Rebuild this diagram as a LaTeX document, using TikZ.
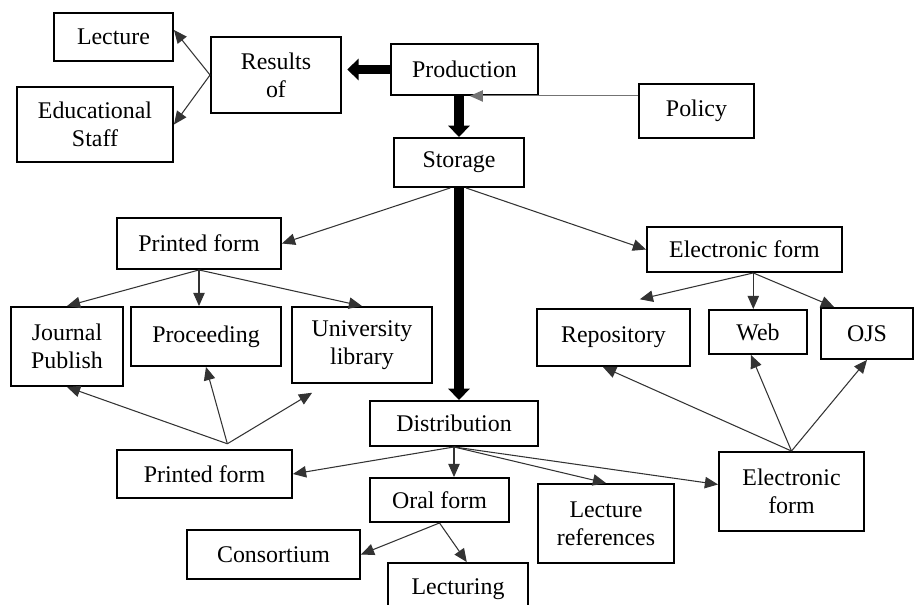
\documentclass[tikz,border=0pt]{standalone}
\usepackage{fontspec}
\setmainfont{Liberation Serif}
\usetikzlibrary{arrows.meta}
\tikzset{
	box/.style={draw,line width=1.1pt,inner sep=0pt,align=center,font=\fontsize{13.6}{15.8}\selectfont},
	thin/.style={draw=black!80,line width=0.6pt,-{Triangle[length=7.5pt,width=6.5pt]}},
	fat/.style={draw,line width=5.5pt,-{Triangle[length=6.5pt,width=12pt]}}
}
\begin{document}
\begin{tikzpicture}[x=0.02cm,y=-0.02cm]
	\useasboundingbox (0,0) rectangle (924,605);
	\node[box,minimum width=2.38cm,minimum height=0.96cm] (lec) at (113.5,37) {Lecture};
	\node[box,minimum width=3.12cm,minimum height=1.5cm] (edu) at (95,124.5) {Educational\\Staff};
	\node[box,minimum width=2.6cm,minimum height=1.52cm] (res) at (276,75) {Results\\of};
	\node[box,minimum width=2.94cm,minimum height=1.02cm] (prod) at (464.5,69.5) {Production};
	\node[box,minimum width=2.3cm,minimum height=1.08cm] (pol) at (696.5,111) {Policy};
	\node[box,minimum width=2.6cm,minimum height=0.98cm] (st) at (459,162.5) {Storage};
	\node[box,minimum width=3.28cm,minimum height=1.02cm] (pf1) at (199,243.5) {Printed form};
	\node[box,minimum width=2.24cm,minimum height=1.58cm] (jp) at (67,346.5) {Journal\\Publish};
	\node[box,minimum width=3cm,minimum height=1.18cm] (pr) at (206,336.5) {Proceeding};
	\node[box,minimum width=2.8cm,minimum height=1.52cm] (ul) at (362,345) {University\\library};
	\node[box,minimum width=3.9cm,minimum height=0.9cm] (ef1) at (744.5,249.5) {Electronic form};
	\node[box,minimum width=3.06cm,minimum height=1.14cm] (rep) at (613.5,337.5) {Repository};
	\node[box,minimum width=1.96cm,minimum height=0.88cm] (web) at (758,332) {Web};
	\node[box,minimum width=1.84cm,minimum height=1.02cm] (ojs) at (867,333.5) {OJS};
	\node[box,minimum width=3.36cm,minimum height=0.9cm] (dist) at (454,423.5) {Distribution};
	\node[box,minimum width=3.5cm,minimum height=0.96cm] (pf2) at (204.5,474) {Printed form};
	\node[box,minimum width=2.78cm,minimum height=0.88cm] (oral) at (439.5,500) {Oral form};
	\node[box,minimum width=3.46cm,minimum height=0.98cm] (cons) at (273.5,554.5) {Consortium};
	\node[box,minimum width=2.8cm,minimum height=1.04cm] (lecg) at (458,589) {Lecturing};
	\node[box,minimum width=2.72cm,minimum height=1.58cm] (lref) at (606,523.5) {Lecture\\references};
	\node[box,minimum width=2.9cm,minimum height=1.58cm] (ef2) at (791.5,491.5) {Electronic\\form};
	\coordinate (rese) at ([xshift=3pt]res.east);
	\coordinate (ef1b) at ([xshift=5pt]ef1.south);
	\coordinate (pf2t) at ([xshift=13pt,yshift=3pt]pf2.north);
	% main line
	\draw[fat] (prod.west) -- (rese |- prod.west);
	\draw[fat] (st.north |- prod.south) -- (st.north);
	\draw[fat] (st.south) -- (st.south |- dist.north);
	\draw[thin,draw=black!55] (pol.west |- prod.south) -- ([xshift=3pt]prod.south);
	\draw[thin] (res.west) -- ([yshift=4pt]lec.east);
	\draw[thin] (res.west) -- (edu.east);
	% storage
	\draw[thin] ([xshift=-5pt]st.south) -- (pf1.east);
	\draw[thin] ([xshift=4pt]st.south) -- (ef1.west);
	\draw[thin] (pf1.south) -- (jp.north);
	\draw[thin] (pf1.south) -- (pf1.south |- pr.north);
	\draw[thin] (pf1.south) -- (ul.north);
	\draw[thin] (ef1b) -- ([xshift=15pt,yshift=5pt]rep.north);
	\draw[thin] (ef1b) -- (ef1b |- web.north);
	\draw[thin] (ef1b) -- ([xshift=8pt]ojs.north west);
	% distribution
	\draw[thin] (dist.south) -- (pf2.east);
	\draw[thin] (dist.south) -- (dist.south |- oral.north);
	\draw[thin] (dist.south) -- (lref.north);
	\draw[thin] (dist.south) -- ([yshift=4pt]ef2.west);
	\draw[thin] (oral.south) -- (cons.east);
	\draw[thin] (oral.south) -- ([xshift=5pt]lecg.north);
	\draw[thin] (pf2t) -- (jp.south);
	\draw[thin] (pf2t) -- (pr.south);
	\draw[thin] (pf2t) -- ([xshift=12pt,yshift=-5pt]ul.south west);
	\draw[thin] (ef2.north) -- ([xshift=-6pt]rep.south);
	\draw[thin] (ef2.north) -- ([xshift=-4pt]web.south);
	\draw[thin] (ef2.north) -- (ojs.south);
\end{tikzpicture}
\end{document}
